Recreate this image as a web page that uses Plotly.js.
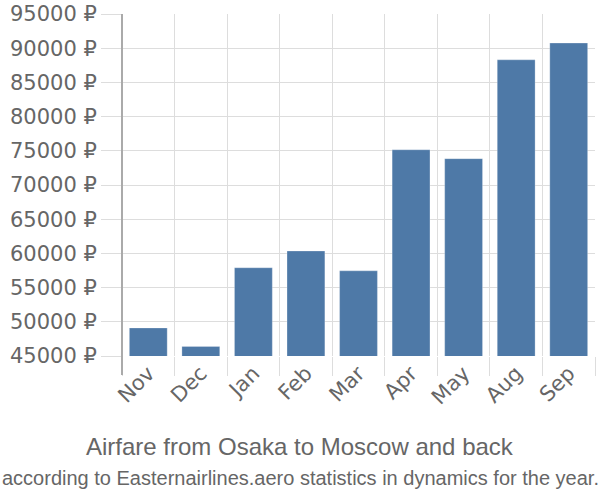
<!DOCTYPE html>
<html>
<head>
<meta charset="utf-8">
<script src="https://cdn.plot.ly/plotly-3.0.1.min.js"></script>
<style>
  html, body { margin: 0; padding: 0; background: #fff; }
  #chart { width: 600px; height: 500px; }
</style>
</head>
<body>
<div id="chart"></div>
<script>
const MONTHS = ['Nov', 'Dec', 'Jan', 'Feb', 'Mar', 'Apr', 'May', 'Aug', 'Sep']
const PRICES = [49100, 46400, 57900, 60350, 57450, 75150, 73850, 88300, 90750]
const Y_TICKS = [45000, 50000, 55000, 60000, 65000, 70000, 75000, 80000, 85000, 90000, 95000]

const TITLE = 'Airfare from Osaka to Moscow and back'
const SUBTITLE = 'according to Easternairlines.aero statistics in dynamics for the year.'

const TEXT_COLOR = '#666'
const GRID_COLOR = '#ddd'

const data = [{
  type: 'bar',
  x: MONTHS,
  y: PRICES,
  marker: {color: '#4e79a7', line: {width: 1, color: 'rgba(255,255,255,0.25)'}},
  hoverinfo: 'none'
}]

const layout = {
  width: 600,
  height: 500,
  margin: {l: 122, r: 5, t: 14, b: 144},
  paper_bgcolor: '#fff',
  plot_bgcolor: '#fff',
  bargap: 0.28,
  showlegend: false,
  font: {family: 'DejaVu Sans, sans-serif', color: TEXT_COLOR},
  xaxis: {
    type: 'category',
    tickson: 'boundaries',
    ticks: 'outside',
    ticklen: 19,
    tickcolor: GRID_COLOR,
    showgrid: true,
    gridcolor: GRID_COLOR,
    gridwidth: 1,
    tickangle: -45,
    tickfont: {size: 21, color: TEXT_COLOR},
    zeroline: false,
    showline: false
  },
  yaxis: {
    range: [Y_TICKS[0], Y_TICKS[Y_TICKS.length - 1]],
    tickvals: Y_TICKS,
    ticktext: Y_TICKS.map((v) => `${v} ₽`),
    ticks: 'outside',
    ticklen: 20,
    tickcolor: GRID_COLOR,
    showgrid: true,
    gridcolor: GRID_COLOR,
    gridwidth: 1,
    zeroline: false,
    showline: false,
    tickfont: {size: 21, color: TEXT_COLOR}
  },
  shapes: [{
    // darker left axis line, runs down past the plot like the ticks
    type: 'line',
    xref: 'paper', yref: 'paper',
    x0: 0, x1: 0, y0: -19 / 342, y1: 1,
    line: {color: '#aaa', width: 2}
  }],
  annotations: [
    {
      text: TITLE,
      xref: 'paper', yref: 'paper',
      x: 0.5, y: -90 / 342,
      xanchor: 'center', yanchor: 'middle',
      showarrow: false,
      font: {family: 'Liberation Sans, Arial, sans-serif', size: 24, color: TEXT_COLOR}
    },
    {
      text: SUBTITLE,
      xref: 'paper', yref: 'paper',
      x: 0.5, y: -122 / 342,
      xanchor: 'center', yanchor: 'middle',
      showarrow: false,
      font: {family: 'Liberation Sans Narrow, Liberation Sans, sans-serif', size: 20, color: TEXT_COLOR}
    }
  ]
}

// centre the two caption lines on the page, not on the plot
const plotW = 600 - layout.margin.l - layout.margin.r
const pageCentre = (300 - layout.margin.l) / plotW
layout.annotations[0].x = pageCentre
layout.annotations[1].x = pageCentre

Plotly.newPlot('chart', data, layout, {staticPlot: true})
</script>
</body>
</html>
